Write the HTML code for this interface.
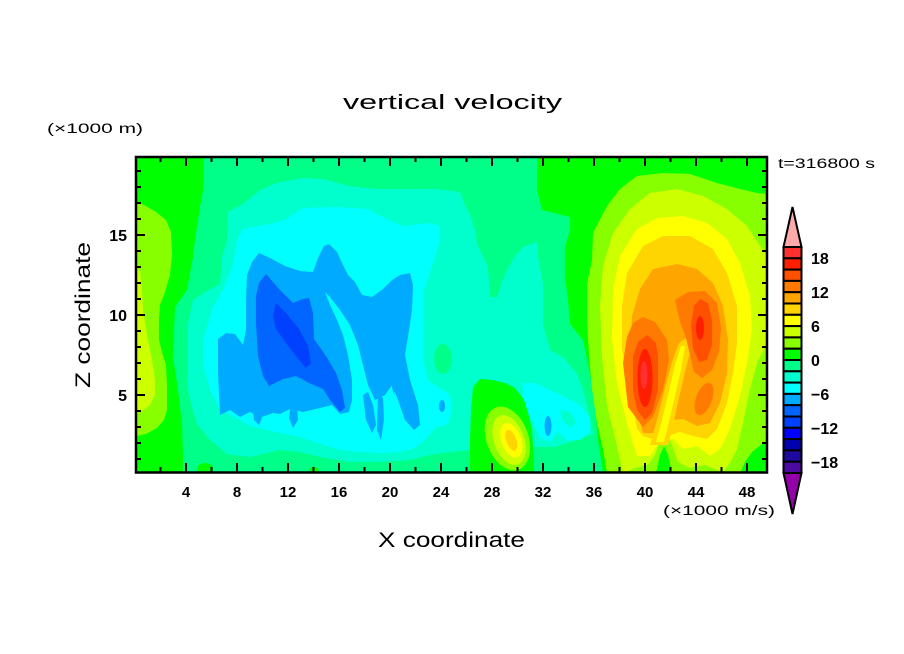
<!DOCTYPE html>
<html><head><meta charset="utf-8"><style>
html,body{margin:0;padding:0;background:#fff;}
svg{display:block;}
text{font-family:"Liberation Sans",sans-serif;fill:#000;}
</style></head><body>
<svg width="904" height="654" viewBox="0 0 904 654" xmlns="http://www.w3.org/2000/svg">
<defs><clipPath id="pc"><rect x="136" y="157" width="631" height="315.5"/></clipPath></defs>
<rect x="0" y="0" width="904" height="654" fill="#fff"/>
<g clip-path="url(#pc)">
<rect x="136" y="157" width="631" height="316" fill="#00ff88"/>
<!-- aquamarine -->
<polygon fill="#00ffcc" points="228,212 243,204 260,190 276,183 303,178 323,179 349,186 376,189 403,189 436,189 460,192 465,205 470,214 475,230 477,244 483,256 488,267 490,297 497,297 502,282 507,270 515,256 523,247 537,242 538,257 543,284 543,324 550,350 563,357 577,374 583,390 590,417 593,434 577,440 555,447 533,447 533,430 527,410 520,395 510,385 495,382 480,379 473,385 472,410 473,440 470,450 450,452 430,455 410,460 380,462 350,462 320,457 300,452 280,450 250,457 227,454 210,440 197,424 192,407 188,390 188,324 193,300 205,292 220,284 222,257 227,240"/>
<ellipse cx="443" cy="359" rx="9" ry="15" fill="#00ff88"/>
<!-- cyan -->
<polygon fill="#00ffff" points="243,229 253,227 270,224 286,219 303,208 336,207 369,209 376,214 403,226 429,223 440,226 440,240 435,257 424,290 423,357 428,380 440,388 450,395 452,410 448,424 435,428 425,440 415,448 400,452 380,453 360,452 340,450 320,444 300,437 280,433 267,430 250,426 240,420 220,410 210,390 203,364 203,340 213,307 223,290 232,267 237,240"/>
<polygon fill="#00ffff" points="522,383 535,383 550,390 565,397 580,405 590,418 590,432 580,440 567,440 558,432 550,442 540,438 532,420 524,402"/>
<polygon fill="#00ffcc" points="560,410 570,412 576,422 570,428 562,420"/>
<!-- -8..-6 -->
<polygon fill="#00aaff" points="218,339 226,333 235,334 243,345 246,330 246,300 247,275 252,262 259,253 270,258 285,266 300,271 313,272 318,258 324,246 329,244 337,252 343,265 348,275 355,282 362,295 372,297 383,289 392,280 400,275 410,273 413,285 412,310 409,330 405,355 410,380 418,405 420,425 414,430 405,420 398,400 392,385 385,395 375,400 368,385 363,365 358,345 350,325 340,310 330,297 325,292 330,305 337,320 343,335 348,355 352,380 352,400 349,412 340,414 332,405 320,408 303,412 290,409 280,414 273,413 262,417 250,412 240,417 230,410 220,415 218,373"/>
<polygon fill="#00aaff" points="363,395 368,392 373,405 376,425 372,433 366,420"/>
<polygon fill="#00aaff" points="378,395 383,398 384,420 381,440 377,430"/>
<polygon fill="#00aaff" points="390,340 396,345 398,370 394,395 390,380"/>
<polygon fill="#00aaff" points="253,408 258,406 262,418 259,425 254,420"/>
<polygon fill="#00aaff" points="291,404 297,405 298,420 293,428 289,418"/>
<ellipse cx="548" cy="426" rx="3.5" ry="10" fill="#00aaff"/>
<ellipse cx="442" cy="406" rx="3" ry="6" fill="#00aaff"/>
<!-- -10..-8 -->
<polygon fill="#0066ff" points="266,274 279,289 293,303 303,299 309,298 313,313 314,339 326,356 336,373 342,390 345,408 340,412 330,400 323,389 309,383 296,376 283,379 269,386 263,376 258,356 256,323 256,296 259,283"/>
<!-- -12..-10 -->
<polygon fill="#0040ff" points="276,303 286,313 299,329 308,346 311,363 306,368 296,356 286,343 276,329 273,316"/>
<!-- left green band -->
<polygon fill="#00ff00" points="136,157 203,157 203,190 200,207 195,240 193,257 187,290 175,307 173,357 178,390 182,424 183,457 183,473 136,473"/>
<ellipse cx="205" cy="469" rx="8" ry="6" fill="#00ff00"/>
<ellipse cx="314" cy="471" rx="5" ry="4" fill="#00ff00"/>
<polygon fill="#88ff00" points="136,201 144,205 156,212 166,220 171,232 172,255 170,275 165,292 160,305 159,320 159,340 162,352 166,365 167,385 167,410 164,420 157,428 146,434 136,436"/>
<polygon fill="#ccff00" points="136,266 140,272 142,290 143,310 147,335 152,360 155,380 155,395 150,405 142,411 136,413"/>
<!-- small blob -->
<polygon fill="#00ff00" points="470,473 470,440 471,410 473,388 480,379 492,380 505,383 515,388 524,400 530,420 533,445 534,473"/>
<g transform="rotate(-20 509 440)">
<ellipse cx="508" cy="438" rx="21" ry="33" fill="#88ff00"/>
<ellipse cx="509" cy="440" rx="15" ry="26" fill="#ccff00"/>
<ellipse cx="511" cy="441" rx="10" ry="18" fill="#ffff00"/>
<ellipse cx="511" cy="441" rx="5" ry="11" fill="#ffd500"/>
</g>
<!-- right region -->
<polygon fill="#00ff00" points="537,157 767,157 767,473 603,473 598,440 595,407 590,374 583,340 570,324 568,300 565,277 565,247 570,230 570,217 542,210 537,190"/>
<polygon fill="#88ff00" points="607,473 603,449 597,423 592,389 589,356 587,320 587,284 592,260 593,233 607,206 620,189 637,176 663,173 690,174 717,183 740,189 757,193 767,194 767,440 752,452 745,462 740,473 672,473 668,455 664,446 660,455 656,473"/>
<polygon fill="#ccff00" points="623,473 617,446 607,406 602,356 600,306 603,266 613,233 630,209 650,193 677,189 703,196 727,209 747,226 760,246 767,256 767,343 757,363 750,389 743,423 737,449 730,463 723,472 705,465 690,468 678,462 672,445 666,432 660,440 655,455 648,465 635,468"/>
<polygon fill="#ffff00" points="637,456 627,423 617,383 612,339 613,289 620,256 637,229 657,218 683,216 707,223 727,239 740,263 750,296 752,329 747,363 740,396 730,429 720,449 710,456 697,446 683,449 673,439 665,440 657,446 650,456"/>
<polygon fill="#ffd500" points="663,236 690,236 713,249 727,273 737,306 737,343 733,373 727,403 717,429 707,439 693,436 680,432 668,436 655,440 643,436 637,429 630,389 622,349 622,306 627,273 643,246"/>
<polygon fill="#ffa500" points="643,433 635,406 630,363 632,316 640,289 653,269 677,264 697,269 713,283 723,306 728,339 727,373 720,403 710,423 697,426 683,419 670,420 657,433"/>
<polygon fill="#ffd500" points="650,445 657,420 664,392 672,362 679,343 686,338 691,348 685,372 679,398 673,425 668,445"/>
<polygon fill="#ffff00" points="656,442 662,420 668,395 675,365 681,346 685,346 681,370 675,396 669,422 664,442"/>
<polygon fill="#ff7a00" points="643,317 655,322 667,340 669,360 663,390 653,417 643,427 628,407 623,363 627,337 633,323"/>
<polygon fill="#ff7a00" points="675,300 688,292 705,291 717,303 721,328 719,352 712,370 702,378 694,372 690,355 686,338 680,322"/>
<ellipse cx="704" cy="399" rx="8" ry="17" transform="rotate(20 704 399)" fill="#ff7a00"/>
<polygon fill="#ff5000" points="647,335 656,343 658,357 658,390 652,413 645,420 637,410 633,390 633,357 638,342"/>
<polygon fill="#ff5000" points="700,299 708,303 712,320 712,345 707,360 699,362 693,348 691,325 694,306"/>
<ellipse cx="645" cy="378" rx="7.5" ry="29" fill="#ff1e00"/>
<ellipse cx="700" cy="328" rx="4" ry="12" fill="#ff1e00"/>
<ellipse cx="644" cy="375" rx="3.5" ry="14" fill="#ff3030"/>
</g>
<!-- border -->
<rect x="136" y="157" width="631" height="315.5" fill="none" stroke="#000" stroke-width="2.5"/>
<!-- ticks -->
<path stroke="#000" stroke-width="2" fill="none" d="
M160.5 472V467M186 472V463M211.5 472V467M237 472V463M262.5 472V467M288 472V463M313.5 472V467M339 472V463M364.5 472V467M390 472V463M415.5 472V467M441 472V463M466.5 472V467M492 472V463M517.5 472V467M543 472V463M568.5 472V467M594 472V463M619.5 472V467M645 472V463M670.5 472V467M696 472V463M721.5 472V467M747 472V463
M160.5 157V162M186 157V166M211.5 157V162M237 157V166M262.5 157V162M288 157V166M313.5 157V162M339 157V166M364.5 157V162M390 157V166M415.5 157V162M441 157V166M466.5 157V162M492 157V166M517.5 157V162M543 157V166M568.5 157V162M594 157V166M619.5 157V162M645 157V166M670.5 157V162M696 157V166M721.5 157V162M747 157V166
M136 459H141M136 443H141M136 427H141M136 411H141M136 395H145M136 379H141M136 363H141M136 347H141M136 331H141M136 315H145M136 299H141M136 283H141M136 267H141M136 251H141M136 235H145M136 219H141M136 203H141M136 187H141M136 171H141
M767 459H762M767 443H762M767 427H762M767 411H762M767 395H758M767 379H762M767 363H762M767 347H762M767 331H762M767 315H758M767 299H762M767 283H762M767 267H762M767 251H762M767 235H758M767 219H762M767 203H762M767 187H762M767 171H762"/>
<!-- tick labels -->
<g font-size="15" font-weight="bold" text-anchor="middle">
<text x="186" y="497">4</text><text x="237" y="497">8</text><text x="288" y="497">12</text><text x="339" y="497">16</text><text x="390" y="497">20</text><text x="441" y="497">24</text><text x="492" y="497">28</text><text x="543" y="497">32</text><text x="594" y="497">36</text><text x="645" y="497">40</text><text x="696" y="497">44</text><text x="747" y="497">48</text>
</g>
<g font-size="16" font-weight="bold" text-anchor="end">
<text x="127" y="241">15</text><text x="127" y="321">10</text><text x="127" y="401">5</text>
</g>
<!-- titles -->
<text x="343" y="109" font-size="20" textLength="219" lengthAdjust="spacingAndGlyphs">vertical velocity</text>
<text x="47" y="133" font-size="13.5" textLength="96" lengthAdjust="spacingAndGlyphs">(×1000 m)</text>
<text x="778" y="168" font-size="13.5" textLength="97" lengthAdjust="spacingAndGlyphs">t=316800 s</text>
<text x="663" y="515" font-size="14" textLength="112" lengthAdjust="spacingAndGlyphs">(×1000 m/s)</text>
<text x="378" y="547" font-size="21" textLength="147" lengthAdjust="spacingAndGlyphs">X coordinate</text>
<text transform="translate(90 388) rotate(-90)" x="0" y="0" font-size="21" textLength="146" lengthAdjust="spacingAndGlyphs">Z coordinate</text>
<!-- colorbar -->
<g stroke="#000" stroke-width="2">
<polygon points="783.5,247 801.5,247 792.5,207" fill="#ffaaaa"/>
<polygon points="783.5,473 801.5,473 792.5,514" fill="#9400aa"/>
<rect x="783.5" y="247" width="18" height="11.3" fill="#ff3030"/>
<rect x="783.5" y="258.3" width="18" height="11.3" fill="#ff1e00"/>
<rect x="783.5" y="269.6" width="18" height="11.3" fill="#ff5000"/>
<rect x="783.5" y="280.9" width="18" height="11.3" fill="#ff7a00"/>
<rect x="783.5" y="292.2" width="18" height="11.3" fill="#ffa500"/>
<rect x="783.5" y="303.5" width="18" height="11.3" fill="#ffd500"/>
<rect x="783.5" y="314.8" width="18" height="11.3" fill="#ffff00"/>
<rect x="783.5" y="326.1" width="18" height="11.3" fill="#ccff00"/>
<rect x="783.5" y="337.4" width="18" height="11.3" fill="#88ff00"/>
<rect x="783.5" y="348.7" width="18" height="11.3" fill="#00ff00"/>
<rect x="783.5" y="360" width="18" height="11.3" fill="#00ff88"/>
<rect x="783.5" y="371.3" width="18" height="11.3" fill="#00ffcc"/>
<rect x="783.5" y="382.6" width="18" height="11.3" fill="#00ffff"/>
<rect x="783.5" y="393.9" width="18" height="11.3" fill="#00aaff"/>
<rect x="783.5" y="405.2" width="18" height="11.3" fill="#0066ff"/>
<rect x="783.5" y="416.5" width="18" height="11.3" fill="#0040ff"/>
<rect x="783.5" y="427.8" width="18" height="11.3" fill="#0000ff"/>
<rect x="783.5" y="439.1" width="18" height="11.3" fill="#0000b0"/>
<rect x="783.5" y="450.4" width="18" height="11.3" fill="#1e0aa0"/>
<rect x="783.5" y="461.7" width="18" height="11.3" fill="#4b0aa0"/>
</g>
<g font-size="16" font-weight="bold">
<text x="811" y="264">18</text>
<text x="811" y="298">12</text>
<text x="811" y="332">6</text>
<text x="811" y="366">0</text>
<text x="811" y="400">−6</text>
<text x="811" y="434">−12</text>
<text x="811" y="468">−18</text>
</g>
</svg>
</body></html>
